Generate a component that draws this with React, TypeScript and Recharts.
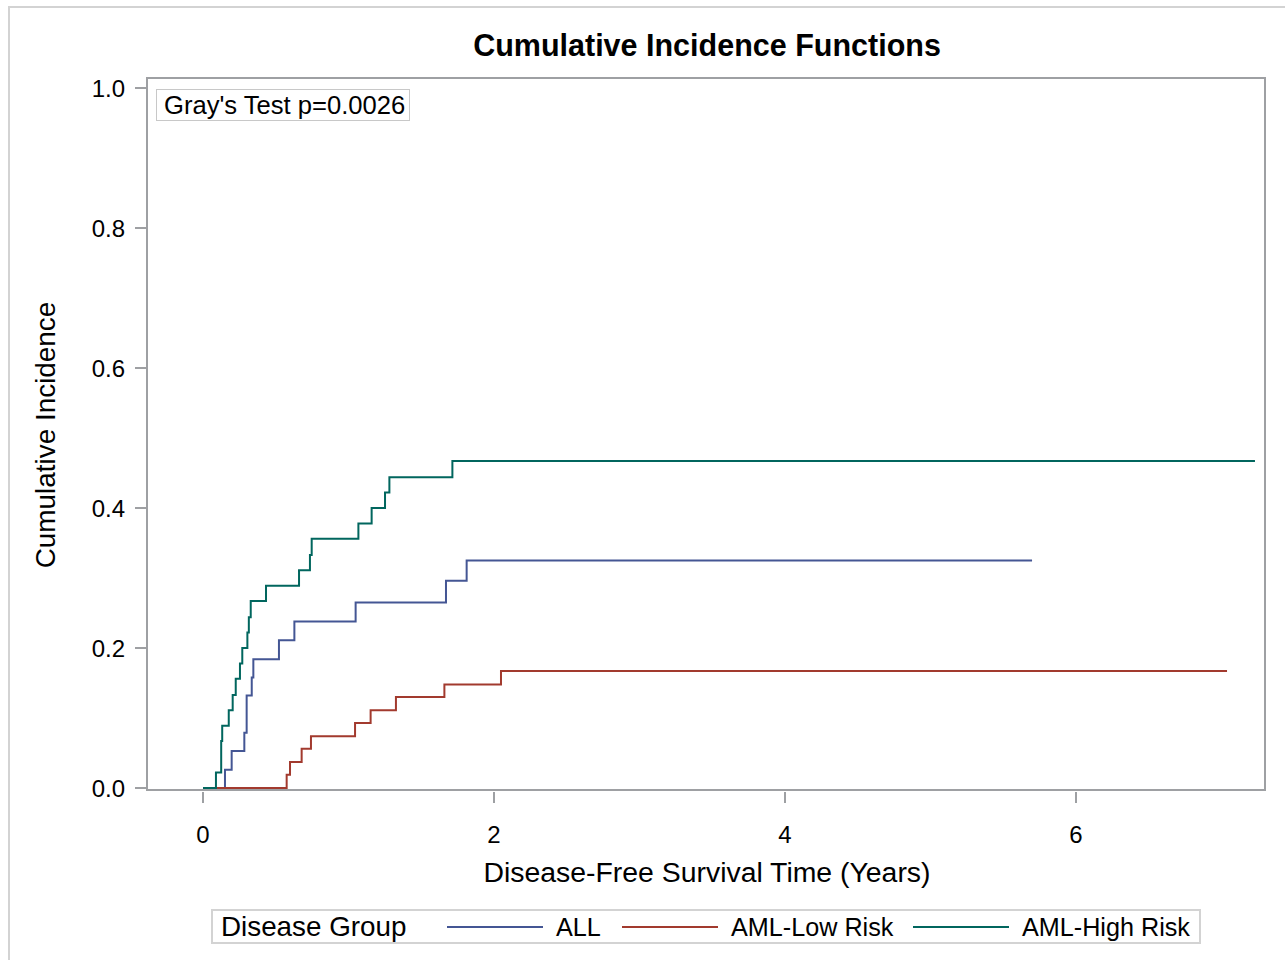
import { LineChart, Line, XAxis, YAxis } from 'recharts'

// event times (years) and cumulative incidence for each disease group
const allTimes = [0, 0.151, 0.197, 0.284, 0.3, 0.335, 0.346, 0.522, 0.628, 1.049, 1.67, 1.812, 5.698]
const allCif = [0, 0.026, 0.053, 0.079, 0.132, 0.158, 0.184, 0.211, 0.238, 0.265, 0.296, 0.325, 0.325]

const lowTimes = [0, 0.575, 0.598, 0.678, 0.742, 1.045, 1.152, 1.326, 1.659, 2.048, 7.038]
const lowCif = [0, 0.019, 0.037, 0.056, 0.074, 0.093, 0.111, 0.13, 0.148, 0.167, 0.167]

const highTimes = [0, 0.089, 0.125, 0.132, 0.177, 0.204, 0.225, 0.254, 0.27, 0.305, 0.315, 0.328, 0.433, 0.66, 0.735, 0.747, 1.068, 1.159, 1.251, 1.281, 1.714, 7.23]
const highCif = [0, 0.022, 0.067, 0.089, 0.111, 0.133, 0.156, 0.178, 0.2, 0.222, 0.244, 0.267, 0.289, 0.311, 0.333, 0.356, 0.378, 0.4, 0.422, 0.444, 0.467, 0.467]

const xTicks = [0, 2, 4, 6]
const yTicks = [0, 0.2, 0.4, 0.6, 0.8, 1.0]

const groups = ['ALL', 'AML-Low Risk', 'AML-High Risk']
const colors = ['#445694', '#A23A2E', '#01665E']

const toSteps = (times: number[], cif: number[]) => times.map((t, i) => ({ t, v: cif[i] }))
const series = [toSteps(allTimes, allCif), toSteps(lowTimes, lowCif), toSteps(highTimes, highCif)]

const font = '"Liberation Sans", Arial, sans-serif'
const axisGray = '#9ea0a3'

export default function App() {
  return (
    <div style={{ position: 'absolute', left: 0, top: 0, width: 1285, height: 960, overflow: 'hidden', background: '#fff', fontFamily: font }}>
      <div style={{ position: 'absolute', left: 8, top: 6, width: 1300, height: 1000, borderTop: '2px solid #d3d3d3', borderLeft: '2px solid #d3d3d3' }} />
      <LineChart width={1285} height={960} margin={{ top: 78, right: 18, bottom: 108, left: 67 }}>
        <XAxis
          type="number"
          dataKey="t"
          domain={[-0.3849, 7.3127]}
          allowDataOverflow
          ticks={xTicks}
          height={60}
          axisLine={false}
          tickSize={11}
          tickMargin={23}
          tickLine={{ stroke: axisGray, strokeWidth: 2 }}
          tick={{ fill: '#000', fontSize: 24, fontFamily: font }}
        />
        <YAxis
          type="number"
          domain={[-0.00571, 1.01429]}
          allowDataOverflow
          ticks={yTicks}
          width={80}
          axisLine={false}
          tickSize={12}
          tickMargin={10}
          tickLine={{ stroke: axisGray, strokeWidth: 2 }}
          tickFormatter={(v: number) => v.toFixed(1)}
          tick={{ fill: '#000', fontSize: 24, fontFamily: font }}
        />
        {series.map((d, i) => (
          <Line
            key={groups[i]}
            data={d}
            dataKey="v"
            name={groups[i]}
            type="stepAfter"
            stroke={colors[i]}
            strokeWidth={2}
            dot={false}
            activeDot={false}
            isAnimationActive={false}
          />
        ))}
      </LineChart>

      {/* plot frame */}
      <div style={{ position: 'absolute', left: 146, top: 77, width: 1120, height: 714, border: `2px solid ${axisGray}`, boxSizing: 'border-box', pointerEvents: 'none' }} />

      <div style={{ position: 'absolute', left: 207, width: 1000, top: 26, textAlign: 'center', fontSize: 30.5, fontWeight: 'bold', lineHeight: '38px' }}>
        Cumulative Incidence Functions
      </div>

      <div style={{ position: 'absolute', left: 156, top: 89, width: 254, height: 32, border: '1px solid #c8c8c8', boxSizing: 'border-box', fontSize: 25.6, lineHeight: '30px', paddingLeft: 7, whiteSpace: 'nowrap' }}>
        Gray's Test p=0.0026
      </div>

      <div style={{ position: 'absolute', left: 46, top: 435, transform: 'translate(-50%, -50%) rotate(-90deg)', fontSize: 27.9, whiteSpace: 'nowrap' }}>
        Cumulative Incidence
      </div>

      <div style={{ position: 'absolute', left: 207, width: 1000, top: 855, textAlign: 'center', fontSize: 28.4, lineHeight: '34px' }}>
        Disease-Free Survival Time (Years)
      </div>

      {/* legend */}
      <div style={{ position: 'absolute', left: 211, top: 909, width: 990, height: 35, border: '2px solid #d3d3d3', boxSizing: 'border-box' }}>
        <div style={{ position: 'absolute', left: 8, top: 0, fontSize: 27.8, lineHeight: '32px', whiteSpace: 'nowrap' }}>Disease Group</div>
        {groups.map((g, i) => {
          const lineLeft = [236, 411, 702][i]
          return (
            <div key={g}>
              <div style={{ position: 'absolute', left: lineLeft - 2, top: 15, width: 96, height: 2, background: colors[i] }} />
              <div style={{ position: 'absolute', left: lineLeft + 107, top: 0, fontSize: 25.2, lineHeight: '32px', whiteSpace: 'nowrap' }}>{g}</div>
            </div>
          )
        })}
      </div>
    </div>
  )
}
